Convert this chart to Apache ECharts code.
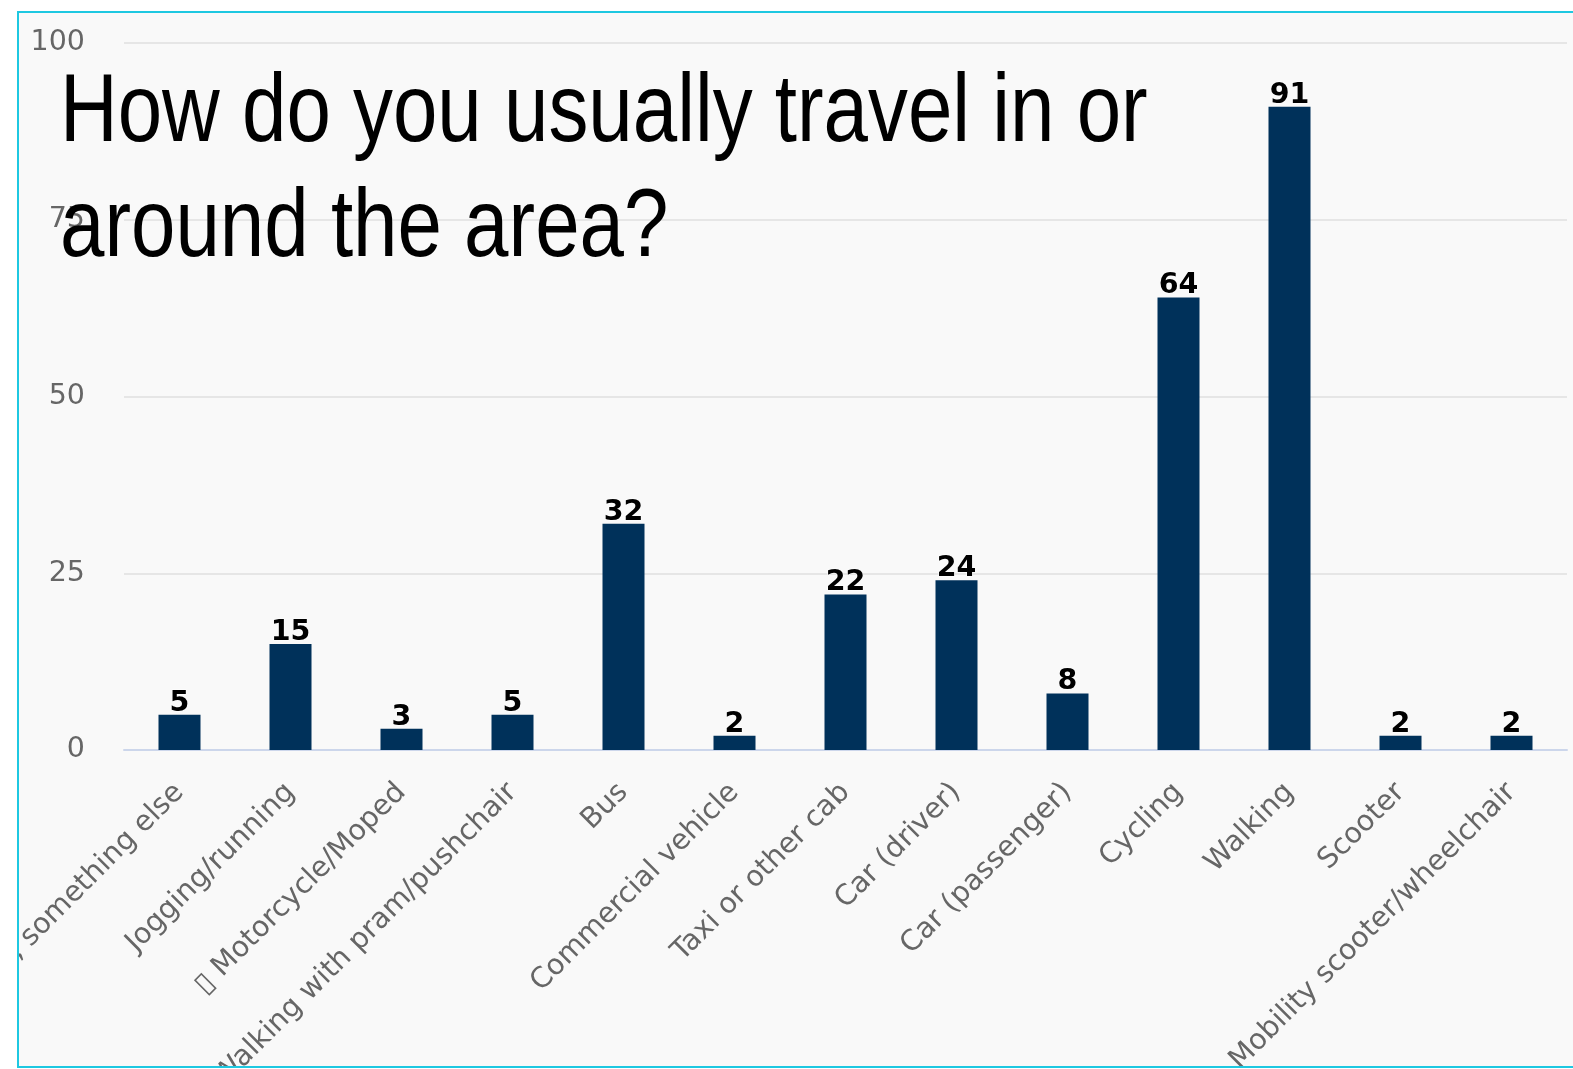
<!DOCTYPE html>
<html>
<head>
<meta charset="utf-8">
<title>How do you usually travel in or around the area?</title>
<script src="https://cdn.jsdelivr.net/npm/echarts@6/dist/echarts.min.js"></script>
<style>
  html, body { margin: 0; padding: 0; background: #ffffff; width: 1573px; height: 1069px; overflow: hidden; }
  #frame {
    position: absolute; left: 17px; top: 11px;
    width: 1600px; height: 1053px;
    border-left: 2px solid #1ec8e1; border-top: 2px solid #1ec8e1; border-bottom: 2px solid #1ec8e1;
    background: #f9f9f9; overflow: hidden;
  }
  #chart { position: absolute; left: 0; top: 0; width: 1554px; height: 1053px; }
</style>
</head>
<body>
<div id="frame"><div id="chart"></div></div>
<script>
// Survey answers: how respondents usually travel around the area
const categories = [
  'Other, something else',
  'Jogging/running',
  '\u25AF Motorcycle/Moped',
  'Walking with pram/pushchair',
  'Bus',
  'Commercial vehicle',
  'Taxi or other cab',
  'Car (driver)',
  'Car (passenger)',
  'Cycling',
  'Walking',
  'Scooter',
  'Mobility scooter/wheelchair'
];
const responses = [5, 15, 3, 5, 32, 2, 22, 24, 8, 64, 91, 2, 2];
const yTicks = { min: 0, max: 100, interval: 25 };
const titleLines = ['How do you usually travel in or', 'around the area?'];

const chart = echarts.init(document.getElementById('chart'), null, { renderer: 'canvas' });

// Condensed heading: a regular sans face squeezed horizontally
const titleFont = '96px "Liberation Sans", Arial, sans-serif';
const titleGraphics = titleLines.map((line, i) => ({
  type: 'text',
  x: 41,
  y: 102 + i * 115,
  scaleX: 0.832,
  z: 100,
  style: {
    text: line,
    x: 0,
    y: 0,
    fill: '#000000',
    font: titleFont,
    verticalAlign: 'middle',
    align: 'left'
  }
}));

chart.setOption({
  backgroundColor: 'transparent',
  animation: false,
  grid: {
    left: 105, right: 6, top: 30, bottom: 316,
    containLabel: false,
    outerBoundsMode: 'none'
  },
  xAxis: {
    type: 'category',
    data: categories,
    axisLine: { show: true, lineStyle: { color: '#ccd6eb', width: 2 } },
    axisTick: { show: false },
    axisLabel: {
      interval: 0,
      rotate: 45,
      margin: 38,
      color: '#666666',
      fontFamily: 'DejaVu Sans',
      fontSize: 28.5
    }
  },
  yAxis: {
    type: 'value',
    min: yTicks.min,
    max: yTicks.max,
    interval: yTicks.interval,
    axisLine: { show: false },
    axisTick: { show: false },
    splitLine: { lineStyle: { color: '#e6e6e6', width: 2 } },
    axisLabel: {
      margin: 39,
      padding: [7, 0, 0, 0],
      color: '#666666',
      fontFamily: 'DejaVu Sans',
      fontSize: 28.5
    }
  },
  series: [{
    type: 'bar',
    data: responses,
    barWidth: 42,
    itemStyle: { color: '#00315a' },
    label: {
      show: true,
      position: 'top',
      distance: -3,
      color: '#000000',
      fontFamily: 'DejaVu Sans',
      fontWeight: 'bold',
      fontSize: 28.5,
      textBorderColor: '#ffffff',
      textBorderWidth: 1
    }
  }],
  graphic: titleGraphics
});
</script>
</body>
</html>
